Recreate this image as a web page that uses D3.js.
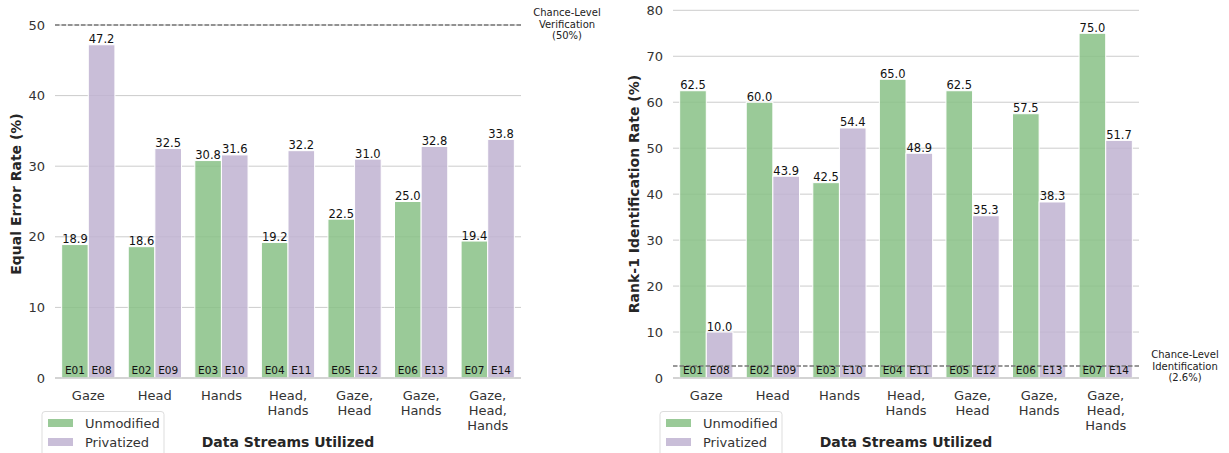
<!DOCTYPE html>
<html>
<head>
<meta charset="utf-8">
<script src="https://cdn.jsdelivr.net/npm/d3@7"></script>
<style>
  body { margin: 0; background: #fff; }
  svg { font-family: "DejaVu Sans", sans-serif; }
</style>
</head>
<body>
<svg id="chart" width="1229" height="453"></svg>
<script>
var categories = ["Gaze", "Head", "Hands", "Head, Hands", "Gaze, Head", "Gaze, Hands", "Gaze, Head, Hands"];
var seriesNames = ["Unmodified", "Privatized"];
var unmodIds = ["E01", "E02", "E03", "E04", "E05", "E06", "E07"];
var privIds = ["E08", "E09", "E10", "E11", "E12", "E13", "E14"];

var eerUnmod = [18.9, 18.6, 30.8, 19.2, 22.5, 25.0, 19.4];
var eerPriv = [47.2, 32.5, 31.6, 32.2, 31.0, 32.8, 33.8];
var eerTicks = [0, 10, 20, 30, 40, 50];

var idUnmod = [62.5, 60.0, 42.5, 65.0, 62.5, 57.5, 75.0];
var idPriv = [10.0, 43.9, 54.4, 48.9, 35.3, 38.3, 51.7];
var idTicks = [0, 10, 20, 30, 40, 50, 60, 70, 80];

var colors = ["#88c186", "#bfb3d1"];
var svg = d3.select('#chart');

function drawPanel(opt) {
    var g = svg.append('g');
    var x = d3.scaleBand().domain(categories).range([opt.left, opt.right]).padding(0);
    var inner = d3.scaleBand().domain(seriesNames).range([0, x.bandwidth() * 0.8]);
    var off = x.bandwidth() * 0.1;
    var y = d3.scaleLinear().domain([0, opt.ymax]).range([378, opt.top]);

    // grid
    g.selectAll('.grid').data(opt.ticks).enter().append('line')
        .attr('x1', opt.left).attr('x2', opt.right)
        .attr('y1', function(d) { return y(d); }).attr('y2', function(d) { return y(d); })
        .style('stroke', '#cccccc').style('stroke-width', 1);

    // y tick labels
    g.selectAll('.ytick').data(opt.ticks).enter().append('text')
        .attr('x', opt.left - 10).attr('y', function(d) { return y(d); })
        .attr('dy', '0.35em').attr('text-anchor', 'end')
        .style('font-size', '13px').style('fill', '#333')
        .text(function(d) { return d; });

    var rows = categories.map(function(c, i) {
        return [
            {cat: c, s: seriesNames[0], v: opt.unmod[i], id: unmodIds[i]},
            {cat: c, s: seriesNames[1], v: opt.priv[i], id: privIds[i]}
        ];
    });
    var flat = [].concat.apply([], rows);

    function bx(d) { return x(d.cat) + off + inner(d.s); }

    g.selectAll('.bar').data(flat).enter().append('rect')
        .attr('x', bx).attr('width', inner.bandwidth())
        .attr('y', function(d) { return y(d.v); })
        .attr('height', function(d) { return y(0) - y(d.v); })
        .style('fill', function(d) { return colors[seriesNames.indexOf(d.s)]; })
        .style('fill-opacity', 0.85)
        .style('stroke', '#fff').style('stroke-width', 1);

    // baseline
    g.append('line').attr('x1', opt.left).attr('x2', opt.right)
        .attr('y1', y(0)).attr('y2', y(0))
        .style('stroke', '#cccccc').style('stroke-width', 1.3);

    // chance line
    g.append('line').attr('x1', opt.left).attr('x2', opt.right)
        .attr('y1', y(opt.chance)).attr('y2', y(opt.chance))
        .style('stroke', '#777').style('stroke-width', 1.5)
        .style('stroke-dasharray', '4.5,2');

    g.selectAll('.val').data(flat).enter().append('text')
        .attr('x', function(d) { return bx(d) + inner.bandwidth() / 2; })
        .attr('y', function(d) { return y(d.v) - 1.5; })
        .attr('text-anchor', 'middle')
        .style('font-size', '11.5px').style('fill', '#111')
        .text(function(d) { return d.v.toFixed(1); });

    g.selectAll('.eid').data(flat).enter().append('text')
        .attr('x', function(d) { return bx(d) + inner.bandwidth() / 2; })
        .attr('y', y(0) - 4)
        .attr('text-anchor', 'middle')
        .style('font-size', '10.5px').style('fill', '#111')
        .text(function(d) { return d.id; });

    // x tick labels
    categories.forEach(function(c) {
        var parts = c.split(', ');
        var t = g.append('text').attr('text-anchor', 'middle')
            .style('font-size', '13px').style('fill', '#333');
        parts.forEach(function(p, i) {
            t.append('tspan').attr('x', x(c) + x.bandwidth() / 2)
                .attr('y', 400 + i * 15)
                .text(p + (i < parts.length - 1 ? ',' : ''));
        });
    });

    // chance annotation
    var a = g.append('text').attr('text-anchor', 'middle')
        .style('font-size', '10px').style('fill', '#222');
    opt.note.forEach(function(line, i) {
        a.append('tspan').attr('x', opt.noteX).attr('y', opt.noteY + i * 11.5).text(line);
    });

    // axis titles
    g.append('text').attr('text-anchor', 'middle')
        .attr('transform', 'translate(' + opt.ylabX + ',' + opt.ylabY + ') rotate(-90)')
        .attr('dy', '0.35em')
        .style('font-size', '14px').style('font-weight', 'bold').style('fill', '#262626')
        .text(opt.ylabel);
    g.append('text').attr('text-anchor', 'middle')
        .attr('x', (opt.left + opt.right) / 2).attr('y', 447)
        .style('font-size', '14px').style('font-weight', 'bold').style('fill', '#262626')
        .text('Data Streams Utilized');

    // legend
    var lx = opt.left - 13;
    g.append('rect').attr('x', lx).attr('y', 411.5).attr('width', 122).attr('height', 60)
        .attr('rx', 3).style('fill', '#fff').style('stroke', '#dddddd').style('stroke-width', 1);
    seriesNames.forEach(function(s, i) {
        g.append('rect').attr('x', lx + 6).attr('y', 419 + i * 19).attr('width', 25).attr('height', 8)
            .style('fill', colors[i]).style('fill-opacity', 0.85);
        g.append('text').attr('x', lx + 43).attr('y', 427.5 + i * 19)
            .style('font-size', '13px').style('fill', '#333').text(s);
    });
}

drawPanel({
    left: 55, right: 521, top: 25, ymax: 50, ticks: eerTicks,
    unmod: eerUnmod, priv: eerPriv, chance: 50,
    note: ['Chance-Level', 'Verification', '(50%)'], noteX: 567, noteY: 16,
    ylabel: 'Equal Error Rate (%)', ylabX: 16, ylabY: 194
});

drawPanel({
    left: 673, right: 1139, top: 10.3, ymax: 80, ticks: idTicks,
    unmod: idUnmod, priv: idPriv, chance: 2.6,
    note: ['Chance-Level', 'Identification', '(2.6%)'], noteX: 1185, noteY: 358,
    ylabel: 'Rank-1 Identification Rate (%)', ylabX: 634, ylabY: 194
});
</script>
</body>
</html>
